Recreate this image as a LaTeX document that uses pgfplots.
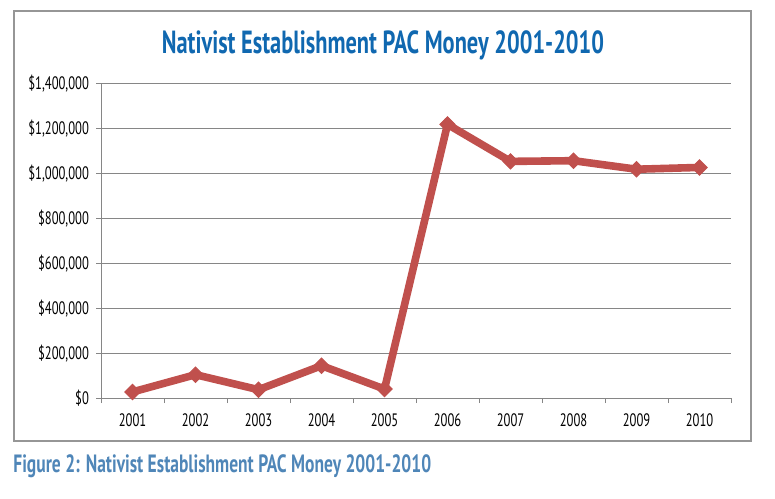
\documentclass[border=0pt]{standalone}
\usepackage{fontspec}
\setmainfont{PT Sans}[FakeStretch=0.7]
\usepackage{pgfplots}
\pgfplotsset{compat=1.18}
\definecolor{linered}{RGB}{192,80,77}
\definecolor{titleblue}{RGB}{16,104,176}
\definecolor{capblue}{RGB}{79,134,184}
\definecolor{gridgray}{RGB}{134,134,134}
\definecolor{framegray}{RGB}{150,150,150}
\begin{document}
\begin{tikzpicture}[x=1pt,y=1pt]
\path (0,0) rectangle (387.5,249);
\draw[framegray, line width=0.6pt] (7,28.5) rectangle (375.5,243.5);
\node[font=\bfseries\fontsize{16}{16}\selectfont, text=titleblue] at (191.5,226.5) {Nativist Establishment PAC Money 2001-2010};
\node[anchor=west, inner sep=0pt, font=\bfseries\fontsize{12.5}{12.5}\selectfont, text=capblue] at (6.5,16) {Figure 2: Nativist Establishment PAC Money 2001-2010};
\begin{axis}[at={(50.5pt,50pt)}, anchor=south west, scale only axis,
  width=315pt, height=157pt,
  xmin=0.5, xmax=10.5, ymin=0, ymax=1400000,
  xtick={0.5,1.5,...,10.5},
  xticklabels={2001,2002,2003,2004,2005,2006,2007,2008,2009,2010},
  x tick label as interval,
  ytick={0,200000,400000,600000,800000,1000000,1200000,1400000},
  yticklabels={\$0,\$200{,}000,\$400{,}000,\$600{,}000,\$800{,}000,\$1{,}000{,}000,\$1{,}200{,}000,\$1{,}400{,}000},
  scaled y ticks=false,
  ymajorgrids, grid style={gridgray, line width=0.5pt},
  axis x line*=bottom, axis y line*=left,
  axis line style={gridgray, line width=0.5pt},
  tick style={gridgray, line width=0.5pt},
  tick align=outside, major tick length=2.5pt,
  tick label style={font=\fontsize{9}{9}\selectfont, text=black},
  xticklabel style={yshift=-2pt},
  clip=false,
]
\addplot[linered, line width=3.8pt, mark=square*, mark size=2.7pt,
  mark options={solid, fill=linered, draw=linered, line width=0.5pt, rotate=45}]
  coordinates {(1,27000) (2,104000) (3,37000) (4,144000) (5,40000)
               (6,1220000) (7,1055000) (8,1058000) (9,1020000) (10,1028000)};
\end{axis}
\end{tikzpicture}
\end{document}
